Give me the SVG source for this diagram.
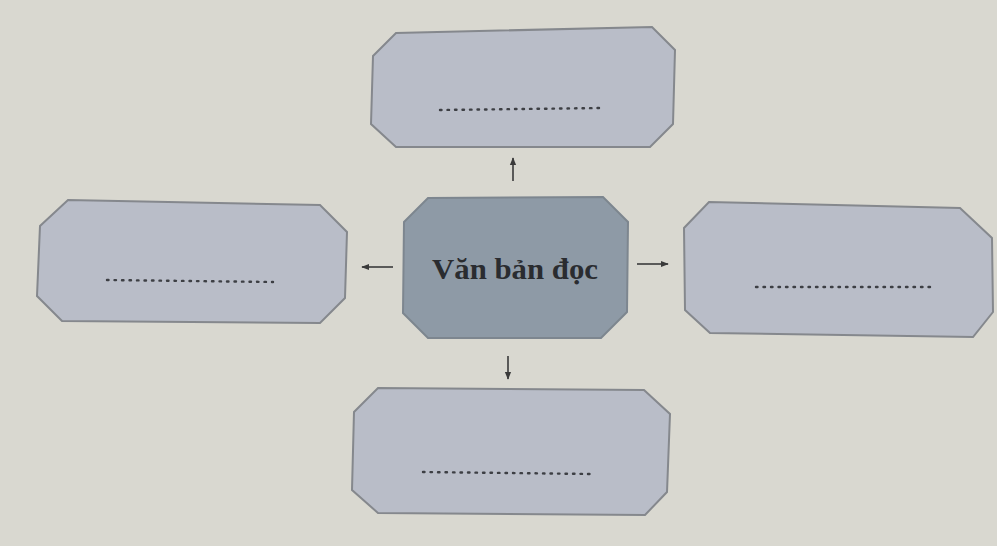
<svg xmlns="http://www.w3.org/2000/svg" width="997" height="546" viewBox="0 0 997 546">
<defs>
<style>
.box{fill:#b9bdc8;stroke:#85888d;stroke-width:2}
.center{fill:#8e9aa6;stroke:#7d868f;stroke-width:2}
.dots{stroke:#3d3f44;stroke-width:2.4;stroke-dasharray:1.5 6;stroke-linecap:round;fill:none}
.conn{stroke:#3a3a3a;stroke-width:1.6;fill:none}
.lbl{font-family:"Liberation Serif","DejaVu Serif",serif;font-weight:bold;font-size:29px;fill:#2a2c30}
</style>
<marker id="ah" viewBox="0 0 10 10" refX="9" refY="5" markerWidth="8" markerHeight="8" orient="auto" markerUnits="userSpaceOnUse">
<path d="M0,1 L10,5 L0,9 Z" fill="#3a3a3a"/>
</marker>
</defs>
<rect x="0" y="0" width="997" height="546" fill="#d9d8d0"/>
<g id="connectors">
<line class="conn" x1="513" y1="181" x2="513" y2="158" marker-end="url(#ah)"/>
<line class="conn" x1="393" y1="267" x2="362" y2="267" marker-end="url(#ah)"/>
<line class="conn" x1="637" y1="264" x2="668" y2="264" marker-end="url(#ah)"/>
<line class="conn" x1="508" y1="356" x2="508" y2="379" marker-end="url(#ah)"/>
</g>
<g id="node-top">
<polygon class="box" points="396,33 652,27 675,50 673,124 650,147 396,147 371,124 373,56"/>
<line class="dots" x1="440" y1="110" x2="602" y2="108"/>
</g>
<g id="node-center">
<polygon class="center" points="428,198 603,197 628,222 627,312 601,338 428,338 403,313 404,222"/>
<text class="lbl" x="515" y="279" text-anchor="middle" textLength="166" lengthAdjust="spacingAndGlyphs">Văn bản đọc</text>
</g>
<g id="node-left">
<polygon class="box" points="68,200 320,205 347,232 345,298 320,323 62,321 37,296 40,226"/>
<line class="dots" x1="107" y1="280" x2="273" y2="282"/>
</g>
<g id="node-right">
<polygon class="box" points="709,202 960,208 992,238 993,312 973,337 710,333 685,310 684,228"/>
<line class="dots" x1="756" y1="287" x2="935" y2="287"/>
</g>
<g id="node-bottom">
<polygon class="box" points="378,388 644,390 670,414 667,492 645,515 378,513 352,490 354,412"/>
<line class="dots" x1="423" y1="472" x2="593" y2="474"/>
</g>
</svg>
